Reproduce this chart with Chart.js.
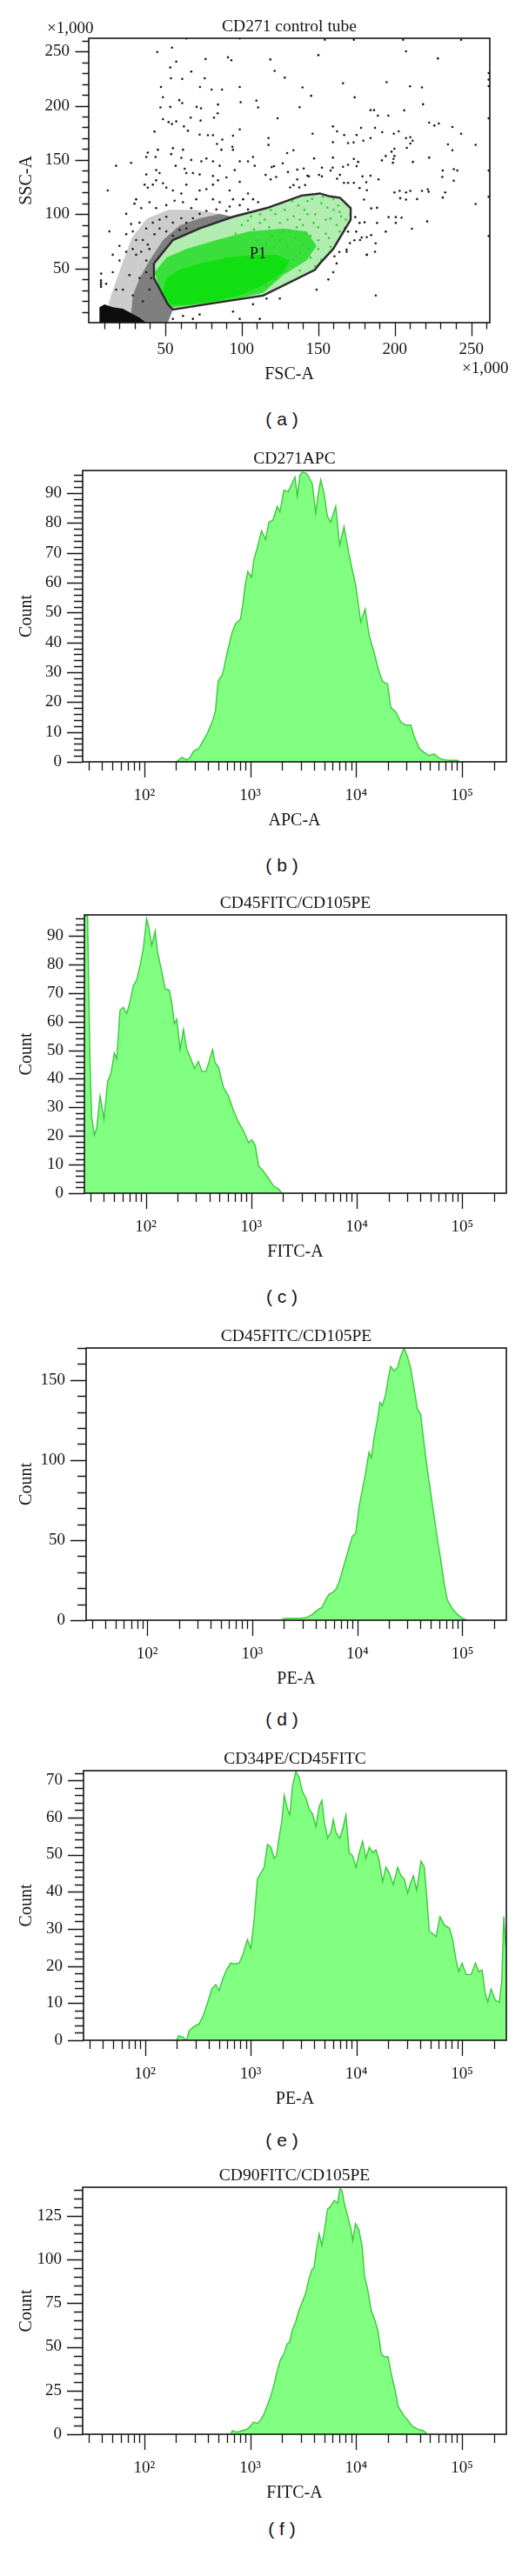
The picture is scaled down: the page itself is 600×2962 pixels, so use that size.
<!DOCTYPE html>
<html lang="en">
<head>
  <meta charset="UTF-8">
  <title>CD271 / CD45 / CD105 / CD34 / CD90 flow cytometry</title>
  <style>
    html, body { margin: 0; padding: 0; background: #fff; }
    body { position: relative; width: 600px; height: 2962px; overflow: hidden; }
    canvas { position: absolute; left: 0; }
    .txt { position: absolute; color: #141414; white-space: pre; transform: translateY(-50%); z-index: 2; }
    .serif { font: 19px "Liberation Serif", "DejaVu Serif", serif; }
    .cap { font: 21px "Liberation Sans", "DejaVu Sans", sans-serif; transform: translate(-50%, -50%); }
  </style>
</head>
<body>
  <canvas id="chartA" width="600" height="452" style="top:4px"></canvas>
  <canvas id="chartB" width="600" height="460" style="top:501px"></canvas>
  <canvas id="chartC" width="600" height="445" style="top:1012px"></canvas>
  <canvas id="chartD" width="600" height="438" style="top:1510px"></canvas>
  <canvas id="chartE" width="600" height="435" style="top:1996px"></canvas>
  <canvas id="chartF" width="600" height="409" style="top:2475px"></canvas>

  <div class="txt serif" style="left:54px;top:32px">×1,000</div>
  <div class="txt serif" style="left:531px;top:423px">×1,000</div>
  <div class="txt serif" style="left:287px;top:291px;font-size:18px">P1</div>
  <div class="txt cap" style="left:324px;top:482px">( a )</div>
  <div class="txt cap" style="left:324px;top:995px">( b )</div>
  <div class="txt cap" style="left:324px;top:1491px">( c )</div>
  <div class="txt cap" style="left:324px;top:1977px">( d )</div>
  <div class="txt cap" style="left:324px;top:2461px">( e )</div>
  <div class="txt cap" style="left:324px;top:2908px">( f )</div>

  <script src="https://cdn.jsdelivr.net/npm/chart.js@4.4.1/dist/chart.umd.min.js"></script>
  <script>
    const SERIF = '"Liberation Serif", "DejaVu Serif", serif'
    const INK = '#141414'

    // (a) CD271 control tube: FSC-A / SSC-A, both in thousands, [fsc, ssc]
    const outsideP1 = [
      [118.7,242.6],[121.5,232.1],[128.1,225.9],[150.1,246.6],[139.7,216.8],[145.4,209.1],[137.8,198.6],[123.4,188.4],
      [173.8,207.7],[166.2,220.6],[207.4,250.1],[228.2,243.6],[194.7,221.7],[210.0,217.9],[217.8,216.8],[218.5,201.3],
      [184.2,195.9],[186.5,195.9],[206.2,195.7],[189.0,190.8],[195.8,190.8],[222.5,184.4],[228.8,183.6],[225.9,181.7],
      [237.7,180.4],[243.4,174.2],[252.9,164.0],[234.8,164.3],[237.7,158.9],[159.6,180.9],[162.3,176.4],[178.0,179.6],
      [187.1,179.6],[146.3,174.2],[117.5,170.2],[117.5,163.8],[159.6,166.4],[167.0,172.9],[169.5,165.6],[173.1,166.2],
      [175.1,172.9],[179.5,167.8],[184.2,170.2],[191.8,175.6],[199.4,174.2],[202.6,176.4],[207.4,170.2],[210.2,171.0],
      [211.7,167.8],[210.2,165.1],[207.9,161.1],[199.8,160.3],[197.9,157.6],[191.6,149.6],[194.1,153.6],[199.8,153.6],
      [199.2,150.9],[198.8,147.4],[222.5,152.2],[211.9,148.2],[173.3,150.9],[176.1,148.2],[175.1,144.2],[169.5,145.5],
      [166.2,143.7],[159.6,152.2],[159.4,142.9],[152.4,142.9],[150.5,136.2],[143.9,134.8],[140.5,142.1],[136.3,141.0],
      [133.8,158.9],[129.7,156.3],[126.8,146.9],[121.1,144.2],[119.6,143.4],[115.6,136.2],[118.9,132.1],[122.5,134.3],
      [131.6,124.6],[133.8,126.8],[136.3,132.1],[137.6,124.6],[141.4,126.8],[142.9,135.4],[130.2,138.8],[147.3,151.4],
      [152.4,134.8],[158.1,140.2],[162.3,132.7],[164.2,136.2],[166.8,128.9],[169.5,128.9],[173.3,128.9],[178.9,134.8],
      [181.4,129.5],[184.2,135.4],[189.4,132.1],[181.8,122.0],[177.0,124.1],[179.9,113.4],[184.6,105.3],[188.4,105.9],
      [188.4,91.9],[180.3,92.5],[177.0,91.9],[174.2,97.3],[174.8,83.9],[173.6,75.9],[178.4,78.5],[184.6,80.7],
      [187.5,73.2],[181.8,62.5],[168.5,67.3],[163.8,65.1],[160.6,61.1],[169.5,83.9],[167.6,87.1],[194.1,83.9],
      [196.0,97.3],[200.7,97.3],[200.7,91.9],[204.5,96.8],[211.2,86.6],[221.2,93.3],[207.4,120.1],[203.2,121.4],
      [199.8,120.1],[203.6,114.7],[207.4,113.4],[210.2,121.4],[214.6,113.9],[217.8,121.4],[221.6,122.8],[222.2,120.6],
      [231.4,115.3],[233.0,120.1],[231.4,140.2],[231.1,134.3],[238.6,141.5],[238.6,130.8],[240.9,140.2],[252.9,109.4],
      [173.3,260.8],[154.3,260.8],[205.5,260.8],[243.4,260.8],[261.4,230],[261.4,224],[261.4,218],[261.4,188.4],
      [261.4,140.2],[261.4,116],[261.4,79.9],
      [44.8,249.5],[54.4,253.5],[57.2,240.6],[53.3,235.2],[53.7,225.3],[61.1,224.7],[67.0,231.5],[75.8,225.3],
      [76.4,243.0],[91.0,244.6],[93.2,241.9],[98.7,217.2],[80.3,214.8],[87.1,214.8],[72.7,217.2],[47.2,217.2],
      [48.5,207.8],[59.2,205.1],[53.3,198.9],[46.9,198.4],[61.1,202.4],[70.5,198.9],[73.4,197.6],[84.5,201.1],
      [84.3,193.0],[99.3,203.2],[109.6,204.6],[110.7,198.4],[48.5,187.6],[52.2,184.9],[54.4,183.1],[57.2,185.5],
      [62.2,180.9],[64.8,176.9],[66.6,189.0],[73.1,186.3],[81.9,189.0],[83.8,164.8],[87.3,168.8],[86.7,159.4],
      [93.9,162.1],[72.5,173.4],[77.9,172.8],[81.2,172.8],[94.3,172.3],[98.7,178.2],[43.0,176.1],[45.2,159.4],
      [43.7,152.7],[38.6,156.7],[37.6,152.7],[55.0,160.8],[60.5,151.9],[53.9,155.4],[61.6,159.4],[67.0,150.0],
      [56.8,144.6],[62.7,141.9],[73.6,148.7],[76.9,151.3],[81.2,148.7],[85.6,144.6],[94.3,159.4],[98.7,148.7],
      [104.1,148.7],[107.4,152.7],[108.5,144.6],[95.4,140.6],[90.0,133.9],[98.7,129.8],[84.5,131.2],[81.2,135.2],
      [72.5,136.6],[68.1,137.9],[63.8,137.9],[44.1,140.6],[46.3,137.9],[37.6,136.6],[27.7,147.3],[17.9,144.6],
      [12.4,121.8],[29.9,109.7],[31.0,113.7],[36.5,127.2],[38.6,124.5],[41.9,127.2],[44.1,131.2],[48.5,128.5],
      [50.7,124.5],[55.0,121.8],[60.5,119.1],[63.8,127.2],[72.5,121.8],[76.9,123.1],[81.2,127.2],[92.1,121.8],
      [94.3,113.7],[100.9,113.7],[104.1,119.1],[107.4,113.7],[110.7,111.0],[98.7,108.3],[104.1,104.3],[92.1,107.0],
      [85.6,111.0],[81.2,113.7],[70.3,113.7],[67.0,105.6],[61.6,111.0],[56.1,112.4],[50.7,108.3],[44.1,105.6],
      [39.7,111.0],[34.3,105.6],[27.7,90.9],[33.2,92.2],[37.6,86.8],[41.9,92.2],[46.3,94.9],[50.7,97.6],
      [55.0,92.2],[60.5,96.2],[63.8,92.2],[68.1,96.2],[72.5,100.3],[76.9,103.0],[83.4,104.3],[90.0,103.0],
      [24.5,81.5],[28.8,84.1],[31.0,76.1],[35.4,76.1],[38.6,72.0],[43.0,81.5],[46.3,86.8],[50.7,84.1],
      [55.0,80.1],[59.4,85.5],[63.8,86.8],
      [15.7,46.5],[20.1,57.3],[22.3,30.4],[26.6,43.8],[31.0,62.6],[33.2,41.1],[37.6,57.3],[28.8,25.0],
      [35.4,19.6],[39.7,30.4],[17.9,30.4],[11.4,35.8],[8.1,45.2],[24.5,65.3],[28.8,68.0],[34.3,65.3],
      [39.7,68.0],[37.6,46.5],[40.8,41.1],[61.6,6.2],[72.5,7.5],[94.3,10.2],[107.4,16.9],[116.2,22.3],
      [124.9,22.3],[148.9,30.4],[156.6,39.8],[159.8,46.5],[162.0,54.6],[168.6,65.3],[181.7,62.6],[187.1,65.3],
      [187.6,25.0],[55.0,3.5],[68.1,3.5],[98.7,3.5],[111.8,3.5],[181.7,78.8],[170.7,73.4],[177.3,76.1],
      [63.8,262],[98.7,262],[8,33],[8,35],[8,37],[8,39],[13.5,84.1],[20.1,70.7],[15.7,62.6],[24.5,100.3]
    ]
    const insideP1 = [
      [115,95],[118,88],[122,100],[125,92],[128,104],[131,85],[134,98],[137,108],[140,90],[143,112],
      [145,80],[148,100],[150,88],[152,110],[155,95],[157,78],[160,104],[162,90],[165,98],[164,84],
      [158,70],[150,68],[145,60],[140,72],[135,78],[130,70],[125,76],[120,80],[112,92],[108,86],
      [104,94],[100,90],[96,82],[110,76],[116,72],[138,64],[152,58],[148,52],[155,82],[163,108],
      [168,95],[143,100],[133,112],[126,110],[119,104],[106,98],[112,100],[130,95],[138,95],[147,92],
      [160,114],[153,116],[146,114],[141,104],[136,88],[127,84],[121,70],[113,66],[142,82],[150,76],
      [158,96],[164,102],[156,106],[144,68],[134,58],[128,50],[138,48],[122,40],[116,34],[104,30]
    ]
    const gateP1 = [
      [42.6,54.6],[55.0,76.1],[72.5,86.8],[94.3,97.6],[116.2,105.6],[139.1,117.2],[151.1,119.1],[157.6,116.4],
      [164.2,115.1],[171.2,105.6],[171.2,94.9],[159.8,68.0],[151.1,54.6],[147.8,48.7],[114.0,25.0],[76.9,16.9],
      [55.0,12.1],[51.7,16.9],[42.6,41.1],[42.6,54.6]
    ]
    const p1Core = [
      [48.5,27.7],[50.7,41.1],[59.4,49.2],[72.5,54.6],[90.0,59.9],[107.4,62.6],[122.7,62.6],[131.4,57.3],
      [127.1,46.5],[114.0,34.4],[98.7,25.0],[81.2,19.6],[63.8,16.4],[52.8,16.9],[48.5,27.7]
    ]
    const p1Dense = [
      [46.5,30.4],[43.0,46.5],[50.7,59.9],[63.8,68.0],[83.4,76.1],[105.2,84.1],[127.1,86.8],[142.4,84.1],
      [148.9,70.7],[142.4,57.3],[127.1,43.8],[114.0,27.7],[94.3,21.0],[72.5,16.9],[55.0,14.2],[49.6,19.6],[46.5,30.4]
    ]
    const debrisBlob = [
      [7,0],[7,14.2],[10.3,16.9],[15.7,14.2],[22.3,12.9],[27.7,8.9],[33.2,4.8],[37.6,0],[7,0]
    ]
    const debrisBand = [
      [37.6,0],[51.7,0],[55.0,12.1],[51.7,16.9],[42.6,41.1],[42.6,54.6],[55.0,76.1],[72.5,86.8],[94.3,97.6],
      [85.6,100.3],[72.5,96.2],[59.4,89.5],[48.5,76.1],[39.7,57.3],[33.2,41.1],[28.8,25.0],[27.7,8.9],[33.2,4.8],[37.6,0]
    ]
    const debrisHalo = [
      [15,0],[37.6,0],[27.7,8.9],[28.8,25],[33.2,41.1],[39.7,57.3],[48.5,76.1],[59.4,89.5],[72.5,96.2],
      [85.6,100.3],[70,104],[52,104],[38,96],[28,78],[22,55],[17,35],[13,18],[15,0]
    ]
    const linTicks = [50, 100, 150, 200, 250]

    // histograms: log x (fluorescence), counts
    const decades = [100, 1000, 10000, 100000]
    const decadeLabels = ['10²', '10³', '10⁴', '10⁵']
    const logMinor = [30, 40, 50, 60, 70, 80, 90, 200, 300, 400, 500, 600, 700, 800, 900,
      2000, 3000, 4000, 5000, 6000, 7000, 8000, 9000, 20000, 30000, 40000, 50000, 60000, 70000, 80000, 90000, 200000]

    const apcX = [201,227,250,268,293,327,351,392,437,470,498,543,563,606,676,727,811,853,904,951,
      1030,1084,1165,1281,1397,1503,1640,1803,1910,2083,2290,2462,2650,2786,2953,3105,3388,3590,3862,4152,
      4402,4633,4983,5354,5757,6424,7004,7697,8276,8903,9934,11075,12171,13283,14810,16260,17745,19810,21290,23730,
      26470,29510,32900,35380,39460,44000,49060,54700,61000,68030,75850,90960,94400]
    const apcY = [0,1.5,0.7,1.2,3.6,4.5,6.3,9.4,13.3,17,27,29,31,36.6,43.4,46.3,47.8,53,60,63.8,
      61.8,67.7,71.6,77.4,74.5,80.3,81,85.6,83.7,91,90.5,93,95.4,89,96,97,96.7,95.3,93,83.3,
      90,94.5,90,82.3,80.3,85.6,72.5,78.8,72.5,66.7,59,46.8,51.2,42.4,36.6,30.8,27,26,18.2,16.7,
      13.3,12.3,12.3,8.5,4.6,3.1,2.1,2.6,1.2,0.7,0.5,0.5,0]

    const cd45X = [26.3,28.1,29.6,30.7,32.6,34.3,36.9,38.2,40.2,43.5,46.9,50.4,53.1,57.1,61.4,66.1,71.0,76.4,82.2,88.4,
      95.0,102,106,114,123,129,140,153,167,177,187,197,212,228,245,264,290,316,340,372,
      399,430,455,490,546,609,679,758,846,944,1014,1091,1175,1310,1462,1630,1815,1954]
    const cd45Y = [97,97,46,26.9,20.3,22.8,34,31,25.8,39,42,49,47,64,65,62.8,67,72.6,74.5,79.6,
      85.7,96,93.7,86.6,91.7,84.6,78.5,71.5,71,66.4,59.3,60.8,50.2,57.3,50.2,47.6,43.6,46.1,42.6,42.6,
      46.1,50.2,45.6,44.1,37,34,28.9,24.8,21.8,17.7,18.7,16.7,9.6,7.6,5.1,2.5,1.5,0]

    const cd105X = [1932,2317,2884,3340,3724,4157,4641,4991,5370,5777,6215,6687,7194,8031,8966,9646,10376,11164,12010,12921,
      13590,14420,15515,16430,17290,18600,19590,20760,22330,24030,25860,27820,29930,32200,34640,37270,40090,43140,46410,49930,
      53720,57790,62170,66890,71960,80330,89660,100000,110000]
    const cd105Y = [1,1.3,1.3,1.8,3.6,6.3,8.2,12.7,16.3,17.2,19,23.6,30.8,41.7,52.5,54.3,70.7,81.5,92.4,105,
      101.4,114,125,136,134,141,150,158.5,155.8,157.6,164.9,170,164.9,157.6,145,132,128.6,110.5,94.2,79.7,
      65.2,50.7,38,23.6,12.7,7.2,3.6,1.3,0]

    const cd34X = [200,207,226,248,261,291,325,357,389,428,467,502,540,589,648,696,777,847,931,1002,
      1040,1079,1159,1247,1341,1442,1549,1667,1754,1832,1971,2075,2230,2346,2487,2674,2875,3092,3325,3578,
      3849,4138,4449,4718,4964,5338,5740,6041,6397,6982,7510,7960,8557,9204,9902,10650,11450,12310,13250,14240,
      15320,16480,17710,19050,20480,22350,24550,26410,28400,30550,32140,34570,37170,40840,43930,46250,48980,52690,56650,61820,
      67940,75800,81510,87670,92900,100000,109100,121700,133800,143900,154700,166400,175100,188100,206900,225600,237600,247900,257000,262000]
    const cd34Y = [0,1.2,0.9,0,2.5,3.7,4.4,6.8,9.9,13.8,15,13.4,16.2,18.9,20.8,20.5,20.8,23.2,27.1,24.7,
      28.6,32.6,43.5,45,46.6,52.8,52,49,49.7,53.6,59,66,62.2,60.7,68.4,72.4,70.8,66.9,65.3,62.2,
      61,57.5,63,64.6,59,54.4,56,59.5,56,54.4,57.5,60.7,50.5,49.7,46.6,50.5,53.6,49,52,50.5,
      51.3,48.2,42.7,46.6,45,41.9,46.6,44.3,43.5,39.6,41.9,44.3,40.4,48.2,46.6,38.8,29.4,28.7,27.9,33.3,
      31,30.2,27.1,21.6,18.5,20.8,17.7,17.7,20.8,18.5,18.9,12.3,10.3,13.8,10.7,10.3,16.2,33.3,26.3,27.9]

    const cd90X = [659,679,747,833,930,1000,1076,1157,1245,1340,1442,1550,1668,1795,1931,2077,2235,2351,2493,2683,
      2886,3105,3341,3594,3811,4011,4221,4475,4745,4994,5373,5781,6219,6691,7040,7355,7745,8333,8965,9298,
      9863,10610,11420,12000,12910,13890,14950,16080,17300,18610,20030,21550,23180,24940,27830,31050,34130,38630,43150,47100]
    const cd90Y = [0,2,1.2,2,2.8,4.5,7,6.1,7.8,11.1,16.1,21,27.7,36,42.6,45.9,51.7,52.6,59.2,64.2,
      70.8,75.8,80.7,89,94,95.6,105.6,114.7,108,115.5,128.8,130.4,133.8,132.1,140.4,139.6,132.1,124.7,117.2,110.6,
      120.5,117.2,107.3,90.7,82.4,70.8,65.8,59.2,45.9,44.3,44.3,34.3,26,16.1,11.1,7.8,4.5,2.8,2,0]

    const countTicks10 = [0, 10, 20, 30, 40, 50, 60, 70, 80, 90]
    const countTicks70 = [0, 10, 20, 30, 40, 50, 60, 70]
    const countTicks50 = [0, 50, 100, 150]
    const countTicks25 = [0, 25, 50, 75, 100, 125]

    function minorEvery(step, max, majorStep) {
      const out = []
      for (let v = step; v <= max; v += step) if (v % majorStep) out.push(v)
      return out
    }

    const toPoints = pairs => pairs.map(([x, y]) => ({ x, y }))
    const zip = (xs, ys) => xs.map((x, i) => ({ x, y: ys[i] }))

    // frame around the plot plus outward tick marks, long for major, short for minor
    function frame(t) {
      return {
        id: 'frame',
        afterDraw(chart) {
          const { ctx, chartArea: a, scales: { x, y } } = chart
          ctx.save()
          ctx.strokeStyle = INK
          ctx.lineWidth = 1.3
          ctx.beginPath()
          const mark = (scale, v, len) => {
            const p = Math.round(scale.getPixelForValue(v)) + 0.5
            if (scale.isHorizontal()) { ctx.moveTo(p, a.bottom); ctx.lineTo(p, a.bottom + len) }
            else { ctx.moveTo(a.left, p); ctx.lineTo(a.left - len, p) }
          }
          t.xMajor.forEach(v => mark(x, v, t.major))
          t.xMinor.forEach(v => mark(x, v, t.minor))
          t.yMajor.forEach(v => mark(y, v, t.major))
          t.yMinor.forEach(v => mark(y, v, t.minor))
          ctx.stroke()
          ctx.lineWidth = 1.6
          ctx.strokeRect(a.left, a.top, a.right - a.left, a.bottom - a.top)
          ctx.restore()
        }
      }
    }

    function buildOptions(p) {
      const tickFont = { family: SERIF, size: 19 }
      const titleFont = { family: SERIF, size: 20 }
      return {
        responsive: false,
        animation: false,
        events: [],
        layout: { padding: { left: 0, top: 0, bottom: 0, right: 600 - p.right } },
        plugins: {
          legend: { display: false },
          tooltip: { enabled: false },
          title: {
            display: true, text: p.title, fullSize: false, color: INK,
            font: { family: SERIF, size: 19.5, weight: 'normal' },
            padding: { top: 15, bottom: 1.6 }
          }
        },
        scales: {
          x: {
            type: p.xType, min: p.xMin, max: p.xMax, bounds: 'data',
            grid: { display: false, drawTicks: false },
            border: { display: false },
            afterBuildTicks: s => { s.ticks = p.xTicks.map(v => ({ value: v })) },
            afterFit: s => { s.height = 85 },
            ticks: { autoSkip: false, maxRotation: 0, padding: p.xPad, color: INK, font: tickFont, callback: p.xLabel },
            title: { display: true, text: p.xTitle, color: INK, font: titleFont, padding: { top: 0, bottom: p.xTitlePad } }
          },
          y: {
            type: 'linear', min: 0, max: p.yMax, bounds: 'data',
            grid: { display: false, drawTicks: false },
            border: { display: false },
            afterBuildTicks: s => { s.ticks = p.yTicks.map(v => ({ value: v })) },
            afterFit: s => { s.width = p.left },
            ticks: { autoSkip: false, padding: p.yPad, color: INK, font: tickFont },
            title: { display: true, text: p.yTitle, color: INK, font: titleFont, padding: { top: 19, bottom: 0 } }
          }
        }
      }
    }

    // (a) scatter with P1 gate
    const polygon = (label, pairs, color, order) => ({
      label, type: 'line', data: toPoints(pairs), fill: 'shape', backgroundColor: color,
      borderColor: 'transparent', borderWidth: 0, pointRadius: 0, tension: 0, order
    })

    new Chart(document.getElementById('chartA'), {
      type: 'scatter',
      data: {
        datasets: [
          { label: 'P1', type: 'line', data: toPoints(gateP1), fill: false, borderColor: '#2b2b2b', borderWidth: 2.4, pointRadius: 0, tension: 0, order: 0 },
          { label: 'Outside P1', data: toPoints(outsideP1), pointBackgroundColor: '#1a1a1a', pointBorderWidth: 0, pointRadius: 1.3, order: 1 },
          { label: 'P1 events', data: toPoints(insideP1), pointBackgroundColor: '#2fcc2f', pointBorderWidth: 0, pointRadius: 1.3, order: 2 },
          polygon('P1 core', p1Core, '#12df12', 3),
          polygon('P1 dense', p1Dense, 'rgba(30, 220, 30, 0.8)', 4),
          polygon('P1 area', gateP1, 'rgba(70, 210, 70, 0.42)', 5),
          polygon('Debris', debrisBlob, '#0d0d0d', 6),
          polygon('Debris band', debrisBand, 'rgba(0, 0, 0, 0.5)', 7),
          polygon('Debris halo', debrisHalo, 'rgba(0, 0, 0, 0.2)', 8)
        ]
      },
      options: buildOptions({
        title: 'CD271 control tube', right: 563, left: 102,
        xType: 'linear', xMin: 0, xMax: 262.144, xTicks: linTicks, xPad: 20, xTitle: 'FSC-A', xTitlePad: 13,
        xLabel: v => String(v),
        yMax: 262.144, yTicks: linTicks, yPad: 22, yTitle: 'SSC-A'
      }),
      plugins: [frame({
        xMajor: linTicks, xMinor: minorEvery(10, 262, 50),
        yMajor: linTicks, yMinor: minorEvery(10, 262, 50),
        major: 15.5, minor: 7.5
      })]
    })

    // (b)-(f) histograms
    const histograms = [
      { canvas: 'chartB', title: 'CD271APC', xTitle: 'APC-A', xs: apcX, ys: apcY, yMax: 97.6, yTicks: countTicks10, yMinor: minorEvery(2, 97, 10), left: 95 },
      { canvas: 'chartC', title: 'CD45FITC/CD105PE', xTitle: 'FITC-A', xs: cd45X, ys: cd45Y, yMax: 97.3, yTicks: countTicks10, yMinor: minorEvery(2, 97, 10), left: 97 },
      { canvas: 'chartD', title: 'CD45FITC/CD105PE', xTitle: 'PE-A', xs: cd105X, ys: cd105Y, yMax: 170, yTicks: countTicks50, yMinor: minorEvery(10, 170, 50), left: 99 },
      { canvas: 'chartE', title: 'CD34PE/CD45FITC', xTitle: 'PE-A', xs: cd34X, ys: cd34Y, yMax: 72.6, yTicks: countTicks70, yMinor: minorEvery(2, 72, 10), left: 96 },
      { canvas: 'chartF', title: 'CD90FITC/CD105PE', xTitle: 'FITC-A', xs: cd90X, ys: cd90Y, yMax: 141.3, yTicks: countTicks25, yMinor: minorEvery(5, 141, 25), left: 95 }
    ]

    histograms.forEach(h => {
      new Chart(document.getElementById(h.canvas), {
        type: 'line',
        data: {
          datasets: [{
            label: h.title,
            data: zip(h.xs, h.ys),
            borderColor: '#3cc83c',
            borderWidth: 1.4,
            backgroundColor: '#80ff80',
            fill: 'origin',
            pointRadius: 0,
            tension: 0
          }]
        },
        options: buildOptions({
          title: h.title, right: 582, left: h.left,
          xType: 'logarithmic', xMin: 26.2144, xMax: 262144, xTicks: decades, xPad: 28, xTitle: h.xTitle, xTitlePad: 5,
          xLabel: v => decadeLabels[decades.indexOf(v)] || '',
          yMax: h.yMax, yTicks: h.yTicks, yPad: 24, yTitle: 'Count'
        }),
        plugins: [frame({
          xMajor: decades, xMinor: logMinor,
          yMajor: h.yTicks, yMinor: h.yMinor,
          major: 18, minor: 10
        })]
      })
    })
  </script>
</body>
</html>
